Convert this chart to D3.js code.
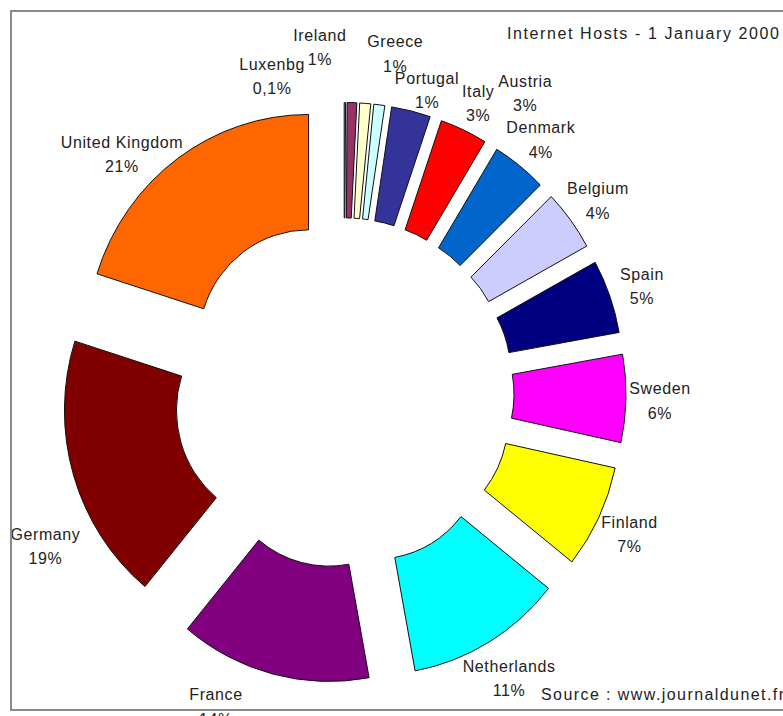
<!DOCTYPE html>
<html>
<head>
<meta charset="utf-8">
<script src="https://cdn.jsdelivr.net/npm/d3@7/dist/d3.min.js"></script>
<style>
  body { margin: 0; background: #fff; }
  svg { display: block; }
</style>
</head>
<body>
<div id="chart"></div>
<script>
// slices, clockwise from 12 o'clock
const countries = ["Luxembourg", "Ireland", "Greece", "Portugal", "Italy", "Austria", "Denmark",
    "Belgium", "Spain", "Sweden", "Finland", "Netherlands", "France", "Germany", "United Kingdom"];
const shares = [0.1, 0.7, 0.8, 0.8, 2.85, 3.45, 4.0, 4.3, 5.2, 6.2, 7.3, 11.4, 13.9, 18.9, 20.1];
const labelNames = ["Luxenbg", "Ireland", "Greece", "Portugal", "Italy", "Austria", "Denmark",
    "Belgium", "Spain", "Sweden", "Finland", "Netherlands", "France", "Germany", "United Kingdom"];
const labelPcts = ["0,1%", "1%", "1%", "1%", "3%", "3%", "4%", "4%", "5%", "6%", "7%", "11%", "14%", "19%", "21%"];
const colors = ["#9999ff", "#993366", "#ffffcc", "#ccffff", "#333399", "#ff0000", "#0066cc",
    "#ccccff", "#000080", "#ff00ff", "#ffff00", "#00ffff", "#800080", "#800000", "#ff6600"];

const title = "Internet Hosts - 1 January 2000";
const source = "Source : www.journaldunet.fr";

const width = 783, height = 716;
const cx = 344, cy = 393, sy = 1.03;
const outerR = 222, innerR = 110, explode = 60;

// hand placed labels (Excel labels were dragged around the crowded top)
const labelPlace = {
    "Luxembourg": [346.9, 317], "Ireland": [-4.1, 338], "Greece": [8.8, 335],
    "Portugal": [15.7, 307], "Italy": [25.4, 313], "Austria": [31.8, 344],
    "France": [202.9, 329], "Germany": [243.7, 333], "United Kingdom": [316.4, 322],
    "Netherlands": [null, 321]
};

const data = countries.map((c, i) => ({
    name: c, value: shares[i], label: labelNames[i], pct: labelPcts[i], color: colors[i]
}));

const svg = d3.select("#chart").append("svg")
    .attr("width", width)
    .attr("height", height);

svg.append("rect")
    .attr("width", width).attr("height", height)
    .attr("fill", "#fff");

const pie = d3.pie().sort(null).value(d => d.value);
const arcs = pie(data);

const arc = d3.arc().innerRadius(innerR).outerRadius(outerR);

const g = svg.append("g")
    .attr("transform", `translate(${cx},${cy}) scale(1,${sy})`);

g.selectAll("path.slice")
    .data(arcs)
    .join("path")
    .attr("class", "slice")
    .attr("d", arc)
    .attr("transform", d => {
        const a = (d.startAngle + d.endAngle) / 2;
        return `translate(${explode * Math.sin(a)},${-explode * Math.cos(a)})`;
    })
    .attr("fill", d => d.data.color)
    .attr("stroke", "#111")
    .attr("stroke-width", 1)
    .attr("vector-effect", "non-scaling-stroke");

// labels
const labels = svg.append("g")
    .attr("font-family", "'Liberation Sans', Arial, sans-serif")
    .attr("font-size", 16)
    .attr("fill", "#222")
    .attr("text-anchor", "middle");

arcs.forEach(d => {
    const place = labelPlace[d.data.name] || [null, 316];
    const mid = (d.startAngle + d.endAngle) / 2 * 180 / Math.PI;
    const ang = (place[0] === null ? mid : place[0]) * Math.PI / 180;
    const rho = place[1];
    const x = cx + rho * Math.sin(ang);
    const y = cy - rho * Math.cos(ang) * sy;
    const t = labels.append("text")
        .attr("x", x).attr("y", y)
        .attr("letter-spacing", 0.6);
    t.append("tspan").attr("x", x).attr("dy", -5).text(d.data.label);
    t.append("tspan").attr("x", x).attr("dy", 24.5).text(d.data.pct);
});

svg.append("text")
    .attr("x", 507).attr("y", 39)
    .attr("font-family", "'Liberation Sans', Arial, sans-serif")
    .attr("font-size", 16)
    .attr("fill", "#222")
    .attr("textLength", 272)
    .attr("lengthAdjust", "spacing")
    .text(title);

svg.append("text")
    .attr("x", 541).attr("y", 700)
    .attr("font-family", "'Liberation Sans', Arial, sans-serif")
    .attr("font-size", 16)
    .attr("fill", "#222")
    .attr("textLength", 243)
    .attr("lengthAdjust", "spacing")
    .text(source);

// chart frame (right edge runs off the picture)
svg.append("rect")
    .attr("x", 11).attr("y", 11)
    .attr("width", 790).attr("height", 699)
    .attr("fill", "none")
    .attr("stroke", "#8a8a8a")
    .attr("stroke-width", 2);
</script>
</body>
</html>
